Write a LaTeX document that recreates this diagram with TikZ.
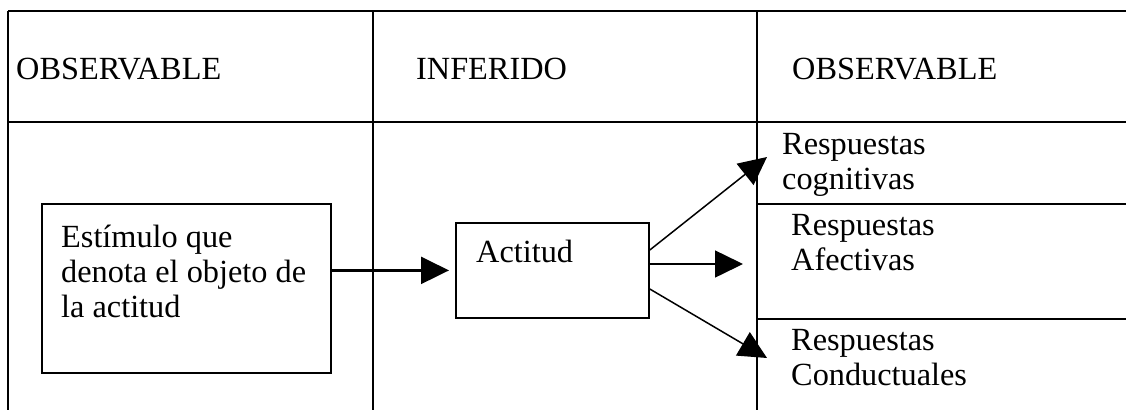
\documentclass[tikz,border=0pt]{standalone}
\usepackage{fontspec}
\setmainfont{Liberation Serif}
\usetikzlibrary{arrows.meta}
\begin{document}
\begin{tikzpicture}[x=1pt,y=-1pt,
  rule/.style={line width=1.8pt},
  boxnode/.style={draw,line width=1.8pt,inner sep=0pt,anchor=north west},
  txt/.style={anchor=north west,inner sep=0pt,align=left,font=\fontsize{32.3}{35}\selectfont},
  bigarrow/.style={line width=1.5pt,-{Triangle[length=28pt,width=27pt]}}
]
\useasboundingbox (0,0) rectangle (1126,410);
% table rules
\draw[rule] (8,11) -- (1126,11);
\draw[rule] (8,122) -- (1126,122);
\draw[rule] (8,11) -- (8,410);
\draw[rule] (373,11) -- (373,410);
\draw[rule] (757,11) -- (757,410);
\draw[rule] (757,204) -- (1126,204);
\draw[rule] (757,319) -- (1126,319);
% headers
\node[txt] (h1) at (16,55) {\strut OBSERVABLE};
\node[txt] (h2) at (416,55) {\strut INFERIDO};
\node[txt] (h3) at (792,55) {\strut OBSERVABLE};
% boxes
\node[boxnode,minimum width=289pt,minimum height=169pt] (stim) at (41,203) {};
\node[txt] (stimt) at (61,223) {\strut Estímulo que\\denota el objeto de\\la actitud};
\node[boxnode,minimum width=193pt,minimum height=95pt] (act) at (455,222) {};
\node[txt] (actt) at (476,238) {\strut Actitud};
% responses
\node[txt] (cog) at (782,130) {\strut Respuestas\\cognitivas};
\node[txt] (afe) at (791,211) {\strut Respuestas\\Afectivas};
\node[txt] (con) at (791,326) {\strut Respuestas\\Conductuales};
% arrows
\draw[line width=2.2pt,-{Triangle[length=28pt,width=27pt]},shorten >=6pt] (act.west -| stim.east) -- (act.west);
\coordinate (t1) at (767,157);
\coordinate (t2) at (743,264);
\coordinate (t3) at (767,358);
\draw[bigarrow] (act.east |- 0,250) -- (t1);
\draw[bigarrow] (act.east |- 0,264) -- (t2);
\draw[bigarrow] (act.east |- 0,289) -- (t3);
\end{tikzpicture}
\end{document}
